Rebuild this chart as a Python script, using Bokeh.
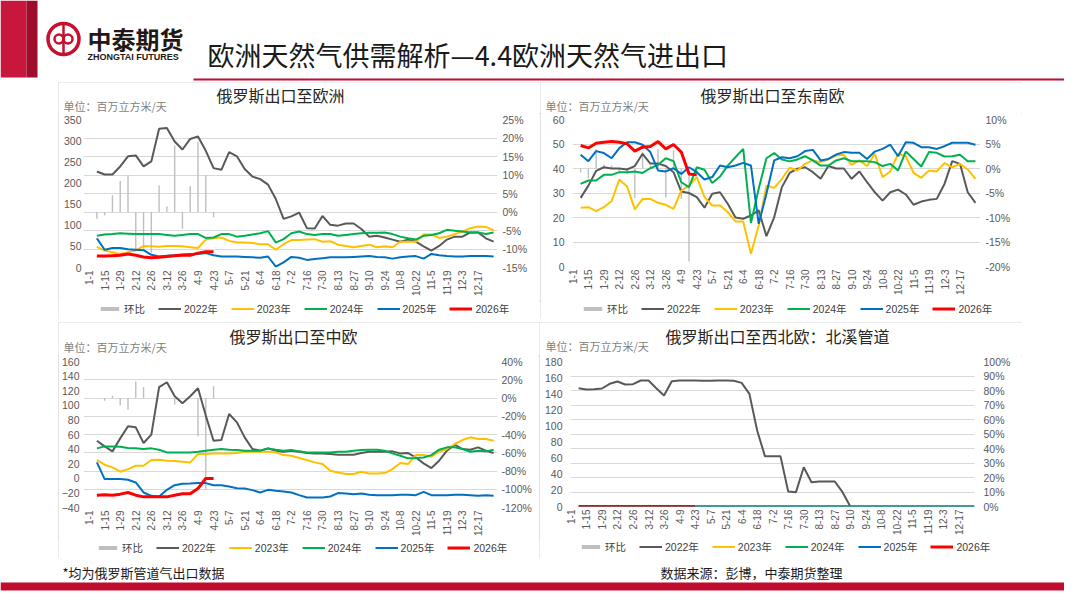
import math
from bokeh.plotting import figure
from bokeh.layouts import column, row
from bokeh.models import (Range1d, LinearAxis, SingleIntervalTicker, FixedTicker,
                          CustomJSTickFormatter, Legend, LegendItem, Spacer)
from bokeh.core.properties import value
from bokeh.embed import file_html
from bokeh.resources import INLINE

CJK = "Noto Sans CJK SC"
NUM = "'Liberation Sans', 'Noto Sans CJK SC'"

# x 轴: 每周一个点 (1-1 为第 0 周), 标签隔周显示
tick_labels = ["1-1", "1-15", "1-29", "2-12", "2-26", "3-12", "3-26", "4-9", "4-23",
               "5-7", "5-21", "6-4", "6-18", "7-2", "7-16", "7-30", "8-13", "8-27",
               "9-10", "9-24", "10-8", "10-22", "11-5", "11-19", "12-3", "12-17"]
series_names = ["2022年", "2023年", "2024年", "2025年", "2026年"]
bar_name = "环比"
unit_text = "单位：百万立方米/天"

# ---- 俄罗斯出口至欧洲 ----
eu_2022 = [227, 220, 220, 239, 263, 265, 239, 251, 328, 330, 298, 279, 304, 310, 276, 235, 231, 273,
           263, 233, 215, 209, 196, 162, 115, 121, 130, 93, 92, 122, 101, 99, 104, 104, 91, 73,
           75, 71, 66, 61, 66, 61, 50, 40, 51, 66, 73, 73, 83, 83, 69, 61]
eu_2023 = [49, 40, 36, 32, 36, 40, 51, 50, 49, 51, 51, 50, 48, 46, 66, 69, 71, 63,
           59, 59, 58, 55, 55, 42, 55, 65, 65, 66, 67, 61, 62, 54, 51, 48, 51, 54,
           48, 50, 48, 61, 61, 61, 78, 78, 70, 73, 79, 85, 93, 97, 96, 88]
eu_2024 = [75, 78, 79, 81, 80, 79, 79, 79, 79, 77, 75, 77, 79, 79, 70, 71, 79, 79,
           73, 75, 78, 81, 86, 59, 67, 81, 85, 79, 77, 79, 79, 75, 77, 79, 81, 82,
           82, 83, 79, 73, 69, 66, 75, 77, 81, 89, 87, 85, 83, 83, 79, 83]
eu_2025 = [69, 42, 46, 46, 43, 42, 41, 30, 26, 28, 29, 31, 32, 32, 34, 29, 26, 26,
           26, 25, 24, 23, 26, 2, 12, 25, 23, 18, 20, 22, 24, 24, 24, 25, 26, 27,
           25, 24, 21, 24, 26, 27, 21, 32, 29, 27, 26, 26, 27, 27, 27, 26]
eu_2026 = [27, 27, 28, 29, 32, 29, 25, 23, 24, 26, 28, 29, 29, 34, 37, 37]
eu_hb = [-1.8, -0.9, 4.5, 8.4, 9.9, -10, -10.5, -11, 7.2, 1.5, 18, -4.5, 7, 19, 9.9, -1.4]

# ---- 俄罗斯出口至东南欧 ----
se_2022 = [28, 33, 39, 40.5, 40, 40, 39.6, 41, 46, 42, 42, 41, 38.5, 30.6, 30, 28.3, 24, 29.7,
           30.3, 25.6, 20, 19.5, 20.8, 22.9, 12.4, 20.1, 32.4, 38.2, 39.9, 40.5, 38.5, 35.8, 41, 40,
           40, 35.8, 38.8, 34.4, 30.3, 26.9, 30.3, 31.4, 29.4, 25.2, 26.5, 27.2, 27.6, 33.7, 43, 41.9,
           30.3, 26]
se_2023 = [24, 24.2, 22.6, 24.2, 26.7, 35.5, 32.7, 23.3, 27.6, 27.6, 26, 25.2, 23.5, 31, 33, 36.5,
           28.3, 24.9, 24.9, 22.2, 18.4, 18.4, 5.2, 16.7, 33, 32.1, 35.8, 40.3, 39.2, 41.9, 43.3, 42.6,
           43.7, 45.3, 45.6, 41.5, 43.3, 41, 46, 36.5, 38.8, 46, 45, 38.2, 36.2, 39.2, 38.8, 42.2,
           40.5, 41.9, 39.6, 35.8]
se_2024 = [33.7, 35.1, 35.1, 37.4, 37.4, 38.5, 38.5, 38.8, 38.2, 40.1, 41.5, 44.2, 43, 34.4, 32.4,
           40.5, 39.5, 34.1, 36.7, 41.2, 44.6, 48, 17.7, 31.7, 44.2, 46.3, 43.7, 42.9, 43.7, 45, 43.3,
           41.2, 41.2, 43.3, 44.2, 43, 43, 43, 42.6, 41, 41.9, 39.2, 46.9, 43.9, 40.8, 46.7, 46.4,
           44.9, 45, 45.6, 43, 43]
se_2025 = [45.6, 43, 47.1, 46.3, 44.2, 48.3, 50.7, 50.7, 49.7, 46.7, 39.2, 38.8, 40.1, 37.8, 40.5,
           38.5, 35.5, 36.5, 41.2, 40.5, 41.2, 42.3, 41.2, 17.4, 29.7, 43.3, 44.6, 44.2, 45, 47.1,
           47.6, 43.3, 43.9, 45.7, 46.7, 46.4, 46.4, 43.9, 46.9, 48, 49.7, 45, 50.7, 50.5, 48.7, 48.7,
           48, 49.1, 50.5, 50.5, 50.5, 49.7]
se_2026 = [49.4, 48.4, 50.3, 50.7, 51, 50.7, 50.1, 47.1, 48.7, 49, 51, 48, 49.8, 46.7, 37.8, 37.4]
se_hb = [-0.8, -2, 4, 0.8, 0.6, -0.6, -1.2, -6, 3.4, 0.6, 4, -5.9, 3.7, -6.2, -19, -1]

# ---- 俄罗斯出口至中欧 ----
ce_2022 = [51.5, 43.7, 36.9, 54.7, 71.2, 69.8, 48.3, 59.8, 124.8, 131.6, 112.4, 102.8, 112.4,
           123.4, 85.9, 51.5, 52.4, 88.1, 76.7, 56.1, 40.1, 37.8, 41, 37.8, 36.4, 37.8, 36.4, 34.6,
           34.1, 34.1, 33.2, 32.3, 32.3, 32.3, 34.6, 36.4, 36.4, 36.4, 36.9, 34.1, 34.6, 28.6, 20.4,
           14, 24.1, 37.8, 46, 40.1, 39.2, 42.4, 37.8, 34.6]
ce_2023 = [25, 18.6, 14.9, 9, 12.6, 17.2, 17.2, 25, 25.4, 24.1, 23.6, 22.7, 21.8, 33.2, 33.2, 34.1,
           34.1, 34.1, 34.6, 36.4, 36.4, 36.4, 36.4, 35.5, 31.8, 30.9, 27.7, 25, 21.8, 19.5, 10.3, 8,
           5.8, 5.8, 9, 6.7, 6.7, 7.1, 12.6, 20.9, 19.5, 31.8, 31.8, 29.6, 36.4, 40.1, 47, 52.4,
           56.1, 53.8, 53.8, 51.5]
ce_2024 = [41, 43.7, 43.7, 43.3, 41.5, 41, 40.1, 41, 39.2, 35.5, 35.5, 35.5, 35.5, 36.4, 37.8, 39.2,
           40.1, 39.2, 38.7, 37.8, 37.8, 37.8, 41, 39.2, 37.8, 38.7, 36.9, 35.5, 35.5, 35.5, 35.5,
           36.4, 36.4, 37.8, 38.7, 39.2, 39.2, 37.8, 34.1, 30.9, 27.3, 27.7, 28.6, 31.8, 39.2, 42.4,
           42.4, 40.1, 36.4, 37.8, 36.9, 39.2]
ce_2025 = [21.8, -1.1, -1.1, -1.1, -2, -5.7, -19.4, -24, -24.9, -15.8, -9.4, -7.5, -7.1, -6.6, -6.6,
           -9.4, -9.4, -11.2, -13.5, -14, -16.2, -19.4, -15.8, -17.1, -18.1, -19.4, -23.1, -26.3,
           -26.3, -26.3, -24.9, -20.3, -20.8, -21.7, -20.8, -22.6, -23.1, -23.1, -23.1, -22.6,
           -22.6, -23.1, -18.5, -23.1, -23.1, -23.1, -22.6, -22.6, -23.1, -24, -23.1, -24]
ce_2026 = [-23.1, -22.6, -23.1, -21.7, -19.4, -23.1, -25.4, -25.4, -25.4, -25.4, -23.1, -21.3,
           -21.3, -14, -0.2, -0.2]
ce_hb = [0, -3, 2.5, -8, -13, 18, 12, 0, 0, 0, -7, 0, 0, -42, -100, 13]

# ---- 俄罗斯出口至西北欧：北溪管道 ----
nw_2022 = [146.9, 145.2, 145.6, 146.5, 152.3, 155.2, 151.4, 151.8, 156.4, 156.4, 146.9, 137.8,
           155.6, 156.4, 156.4, 156.4, 156, 156, 156.4, 156.4, 156, 153.5, 139.8, 94.3, 62.5, 62.5,
           62.5, 18.6, 17.8, 48.8, 30.2, 31, 31, 31, 17.8, 0]
nw_2023 = [0, 0, 0, 0, 0, 0, 0, 0, 0, 0, 0, 0, 0, 0, 0, 0, 0, 0, 0, 0, 0, 0, 0, 0, 0, 0,
           0, 0, 0, 0, 0, 0, 0, 0, 0, 0, 0, 0, 0, 0, 0, 0, 0, 0, 0, 0, 0, 0, 0, 0, 0, 0]
nw_2024 = [0, 0, 0, 0, 0, 0, 0, 0, 0, 0, 0, 0, 0, 0, 0, 0, 0, 0, 0, 0, 0, 0, 0, 0, 0, 0,
           0, 0, 0, 0, 0, 0, 0, 0, 0, 0, 0, 0, 0, 0, 0, 0, 0, 0, 0, 0, 0, 0, 0, 0, 0, 0]
nw_2025 = [0, 0, 0, 0, 0, 0, 0, 0, 0, 0, 0, 0, 0, 0, 0, 0, 0, 0, 0, 0, 0, 0, 0, 0, 0, 0,
           0, 0, 0, 0, 0, 0, 0, 0, 0, 0, 0, 0, 0, 0, 0, 0, 0, 0, 0, 0, 0, 0, 0, 0, 0, 0]
nw_2026 = [0, 0, 0, 0, 0, 0, 0, 0, 0, 0, 0, 0, 0, 0, 0, 0]
nw_hb = [0, 0, 0, 0, 0, 0, 0, 0, 0, 0, 0, 0, 0, 0, 0, 0]

line_colors = ["#595959", "#FFC000", "#00B050", "#0070C0", "#FF0000"]
line_widths = [2, 2, 2, 2, 3]
bar_color = "#BFBFBF"


def plain_fig(w, h, xr, yr):
    f = figure(width=w, height=h, x_range=Range1d(*xr), y_range=Range1d(*yr),
               x_axis_type=None, y_axis_type=None, toolbar_location=None,
               output_backend="svg", min_border=0, outline_line_color=None,
               frame_align=False)
    return f


def draw_series(f, c, y_range_name="default"):
    wk = list(range(1, 53))
    rs = [f.vbar(x=wk[:len(c["hb"])], top=c["hb"], bottom=0, width=0.18,
                 fill_color=bar_color, line_color=None)]
    for ys, col, lw in zip(c["series"], line_colors, line_widths):
        rs.append(f.line(wk[:len(ys)], ys, y_range_name=y_range_name,
                         line_color=col, line_width=lw))
    return rs


def make_cell(c):
    # 一个图块 = 标题条 + 图表 + 图例条, 外加浅灰边框
    W, H = c["size"]
    ml, mr = c["lr"]
    ft, fb, ly = c["frame"]
    top_h = ft - 6
    leg_top = ly - 9
    leg_h = H - leg_top

    top = plain_fig(W, top_h, (0, W), (top_h, 0))
    top.text(x=[c["tpos"][0]], y=[c["tpos"][1]], text=[c["title"]], text_font=value(CJK),
             text_font_size="16px", text_color="#262626", text_align="center",
             text_baseline="middle")
    top.text(x=[c["upos"][0]], y=[c["upos"][1]], text=[unit_text], text_font=value(CJK),
             text_font_size="11px", text_color="#7F7F7F", text_baseline="middle")

    p = figure(width=W, height=leg_top - top_h, x_range=Range1d(*c["xr"]),
               y_range=Range1d(*c["pr"]), y_axis_location="right", toolbar_location=None,
               output_backend="svg", min_border_left=ml, min_border_right=mr,
               min_border_top=6, min_border_bottom=leg_top - fb, outline_line_color=None,
               frame_align=False)

    # 右轴: 环比 (%)
    pct_ticker = SingleIntervalTicker(interval=c["pi"])
    ra = p.right[0]
    ra.ticker = pct_ticker
    ra.formatter = CustomJSTickFormatter(code="return tick + '%';")
    ra.major_label_standoff = c["so"][1]
    p.ygrid.ticker = pct_ticker
    p.ygrid.grid_line_color = "#D9D9D9"
    p.xgrid.visible = False

    # 左轴: 百万立方米/天
    p.extra_y_ranges = {"vol": Range1d(*c["vr"])}
    la = LinearAxis(y_range_name="vol", ticker=SingleIntervalTicker(interval=c["vi"]))
    la.major_label_standoff = c["so"][0]
    p.add_layout(la, "left")

    xa = p.below[0]
    xa.ticker = FixedTicker(ticks=[2 * k for k in range(len(tick_labels))])
    xa.major_label_overrides = {2 * k: lab for k, lab in enumerate(tick_labels)}
    xa.major_label_orientation = math.pi / 2
    xa.major_label_standoff = 3

    for a in [ra, la, xa]:
        a.axis_line_color = None
        a.major_tick_line_color = None
        a.minor_tick_line_color = None
        a.major_tick_out = 0
        a.major_tick_in = 0
        a.minor_tick_out = 0
        a.major_label_text_font = NUM
        a.major_label_text_font_size = "10.5px"
        a.major_label_text_color = "#595959"
    xa.major_label_text_font_size = "10px"

    draw_series(p, c, "vol")

    # 图例条: 同一组序列画在可视范围之外, 只借用其图例符号
    lf = plain_fig(W, leg_h, (-3, -2), (0, 1))
    proxies = draw_series(lf, c)
    items = [LegendItem(label=n, renderers=[r])
             for n, r in zip([bar_name] + series_names, proxies)]
    lf.add_layout(Legend(items=items, orientation="horizontal", location=(c["lx"], leg_h - 15),
                         label_text_font=NUM, label_text_font_size="10.5px",
                         label_text_color="#404040", glyph_width=23, glyph_height=5,
                         label_height=12, label_standoff=3, spacing=13, padding=0, margin=0,
                         border_line_color=None, background_fill_alpha=0))

    return column(top, p, lf, width=W, height=H,
                  styles={"outline": "1px solid #D9D9D9", "outline-offset": "-1px"})


charts = [
    dict(title="俄罗斯出口至欧洲", size=(482, 237), lr=(25, 43), frame=(37, 185, 228),
         xr=(-0.72, 52.5), pr=(-15, 25), pi=5, vr=(0, 350), vi=50, so=(2, 5),
         tpos=(222, 12), upos=(5, 23), lx=40, hb=eu_hb,
         series=[eu_2022, eu_2023, eu_2024, eu_2025, eu_2026]),
    dict(title="俄罗斯出口至东南欧", size=(482, 237), lr=(32, 42), frame=(37, 184, 228),
         xr=(-0.05, 52.65), pr=(-20, 10), pi=5, vr=(0, 60), vi=10, so=(8, 5),
         tpos=(232, 12), upos=(5, 23), lx=41, hb=se_hb,
         series=[se_2022, se_2023, se_2024, se_2025, se_2026]),
    dict(title="俄罗斯出口至中欧", size=(481, 236), lr=(25, 42), frame=(39, 185, 227),
         xr=(-0.72, 52.5), pr=(-120, 40), pi=20, vr=(-40, 160), vi=20, so=(4, 4),
         tpos=(235, 13), upos=(5, 24), lx=38, hb=ce_hb,
         series=[ce_2022, ce_2023, ce_2024, ce_2025, ce_2026]),
    dict(title="俄罗斯出口至西北欧：北溪管道", size=(483, 236), lr=(31, 48), frame=(39, 184, 226),
         xr=(-0.05, 52.0), pr=(0, 100), pi=10, vr=(0, 180), vi=20, so=(8, 9),
         tpos=(238, 13), upos=(6, 23.5), lx=40, hb=nw_hb,
         series=[nw_2022, nw_2023, nw_2024, nw_2025, nw_2026]),
]
c1, c2, c3, c4 = [make_cell(c) for c in charts]

# ---- 页眉 ----
hdr = plain_fig(1064, 82, (0, 1064), (82, 0))
hdr.quad(left=[0], right=[26], top=[0], bottom=[77], fill_color="#C8173C", line_color=None)
hdr.quad(left=[26], right=[37], top=[0], bottom=[77], fill_color="#9E0E2C", line_color=None)
hdr.circle(x=[63], y=[38.5], radius=15.5, fill_color=None, line_color="#C8102E", line_width=3.5)
hdr.circle(x=[58.5, 67.5], y=[38.5, 38.5], radius=4.5, fill_color=None,
           line_color="#C8102E", line_width=2.5)
hdr.segment(x0=[63], y0=[24], x1=[63], y1=[53], line_color="#C8102E", line_width=2.5)
hdr.text(x=[87], y=[38], text=["中泰期货"], text_font=value(CJK), text_font_size="24px",
         text_font_style="bold", text_color="#231815", text_baseline="middle")
hdr.text(x=[87], y=[56.5], text=["ZHONGTAI FUTURES"], text_font=value("Liberation Sans"),
         text_font_size="9px", text_font_style="bold", text_color="#231815",
         text_baseline="middle")
hdr.text(x=[207], y=[54], text=["欧洲天然气供需解析—4.4欧洲天然气进出口"], text_font=value(CJK),
         text_font_size="27px", text_color="#1A1A1A", text_baseline="middle")
hdr.segment(x0=[193], y0=[79], x1=[1064], y1=[79], line_color="#C00D36", line_width=2)

# ---- 页脚 ----
ftr = plain_fig(1064, 34, (0, 1064), (34, 0))
ftr.text(x=[62], y=[14], text=["*均为俄罗斯管道气出口数据"], text_font=value(CJK),
         text_font_size="13px", text_color="#1A1A1A", text_baseline="middle")
ftr.text(x=[660], y=[14], text=["数据来源：彭博，中泰期货整理"], text_font=value(CJK),
         text_font_size="13px", text_color="#1A1A1A", text_baseline="middle")
ftr.quad(left=[0], right=[1064], top=[24], bottom=[32], fill_color="#C00D2E", line_color=None)

page = column(hdr,
              row(Spacer(width=58, height=237), c1, c2),
              Spacer(width=1022, height=3),
              row(Spacer(width=58, height=236), c3, c4),
              ftr)

open("out.html", "w").write(file_html(page, INLINE))
